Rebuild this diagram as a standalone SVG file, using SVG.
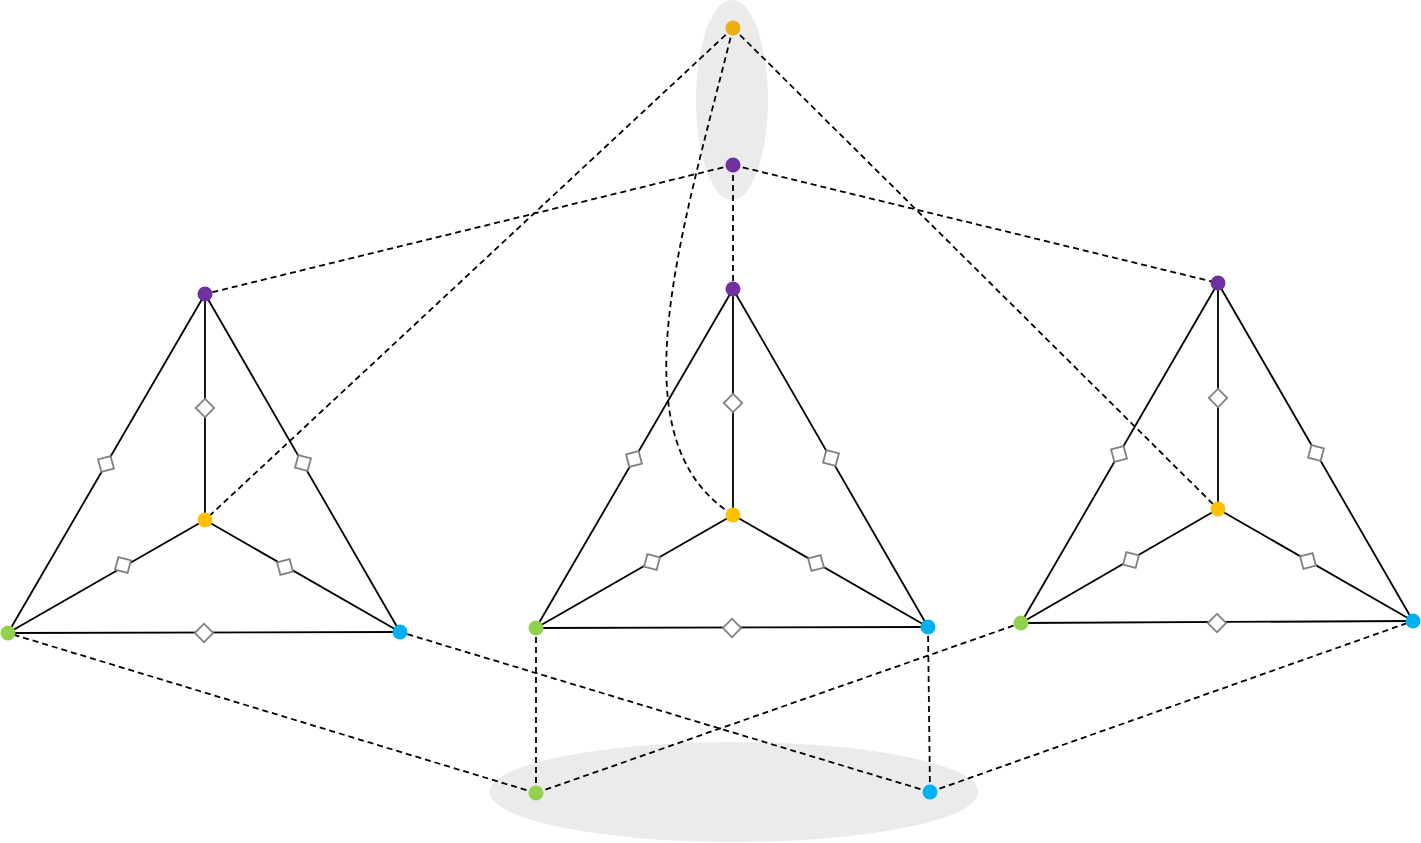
<svg xmlns="http://www.w3.org/2000/svg" width="1421" height="843" viewBox="0 0 1421 843">
<style>
.bg{fill:#EBEBEB}
.dash{fill:none;stroke:#000;stroke-width:1.8;stroke-dasharray:6 4}
.edge{fill:none;stroke:#000;stroke-width:1.8}
.dm{fill:#fff;stroke:#808080;stroke-width:1.8}
.p{fill:#7030A0}.y{fill:#FFC000}.yt{fill:#EBB00F}.g{fill:#92D050}.b{fill:#00B0F0}
</style>
<defs>
<rect id="d" class="dm" x="-6.5" y="-6.5" width="13" height="13"/>
</defs>
<rect width="1421" height="843" fill="#fff"/>
<ellipse class="bg" cx="732" cy="100" rx="36" ry="100"/>
<ellipse class="bg" cx="734" cy="792" rx="244" ry="50"/>
<g id="connectors">
<g id="dashed">
<line class="dash" x1="733" y1="28" x2="205" y2="520"/>
<line class="dash" x1="733" y1="28" x2="1218" y2="509"/>
<path class="dash" d="M733,28 C680,240 614,440 733,515"/>
<line class="dash" x1="733" y1="165" x2="205" y2="294"/>
<line class="dash" x1="733" y1="165" x2="733" y2="289"/>
<line class="dash" x1="733" y1="165" x2="1218" y2="283"/>
<line class="dash" x1="536" y1="793" x2="8" y2="633"/>
<line class="dash" x1="536" y1="793" x2="536" y2="628"/>
<line class="dash" x1="536" y1="793" x2="1021" y2="623"/>
<line class="dash" x1="930" y1="792" x2="400" y2="632"/>
<line class="dash" x1="930" y1="792" x2="928" y2="627"/>
<line class="dash" x1="930" y1="792" x2="1413" y2="621"/>
</g>
<g id="edges-left">
<line class="edge" x1="205" y1="294" x2="205" y2="520"/>
<line class="edge" x1="205" y1="294" x2="8" y2="633"/>
<line class="edge" x1="205" y1="294" x2="400" y2="632"/>
<line class="edge" x1="205" y1="520" x2="8" y2="633"/>
<line class="edge" x1="205" y1="520" x2="400" y2="632"/>
<line class="edge" x1="8" y1="633" x2="400" y2="632"/>
<use href="#d" transform="translate(205,408) rotate(45)"/>
<use href="#d" transform="translate(106,464) rotate(75)"/>
<use href="#d" transform="translate(303,463) rotate(15)"/>
<use href="#d" transform="translate(123,565) rotate(15)"/>
<use href="#d" transform="translate(285,567) rotate(75)"/>
<use href="#d" transform="translate(204,633) rotate(45)"/>
</g>
<g id="edges-middle">
<line class="edge" x1="733" y1="289" x2="733" y2="515"/>
<line class="edge" x1="733" y1="289" x2="536" y2="628"/>
<line class="edge" x1="733" y1="289" x2="928" y2="627"/>
<line class="edge" x1="733" y1="515" x2="536" y2="628"/>
<line class="edge" x1="733" y1="515" x2="928" y2="627"/>
<line class="edge" x1="536" y1="628" x2="928" y2="627"/>
<use href="#d" transform="translate(733,403) rotate(45)"/>
<use href="#d" transform="translate(634,459) rotate(75)"/>
<use href="#d" transform="translate(831,458) rotate(15)"/>
<use href="#d" transform="translate(652,562) rotate(15)"/>
<use href="#d" transform="translate(816,563) rotate(75)"/>
<use href="#d" transform="translate(732,628) rotate(45)"/>
</g>
<g id="edges-right">
<line class="edge" x1="1218" y1="283" x2="1218" y2="509"/>
<line class="edge" x1="1218" y1="283" x2="1021" y2="623"/>
<line class="edge" x1="1218" y1="283" x2="1413" y2="621"/>
<line class="edge" x1="1218" y1="509" x2="1021" y2="623"/>
<line class="edge" x1="1218" y1="509" x2="1413" y2="621"/>
<line class="edge" x1="1021" y1="623" x2="1413" y2="621"/>
<use href="#d" transform="translate(1218,398) rotate(45)"/>
<use href="#d" transform="translate(1119,454) rotate(75)"/>
<use href="#d" transform="translate(1316,453) rotate(15)"/>
<use href="#d" transform="translate(1131,560) rotate(15)"/>
<use href="#d" transform="translate(1308,561) rotate(75)"/>
<use href="#d" transform="translate(1217,623) rotate(45)"/>
</g>
</g>
<g id="node-top-yellow"><circle class="yt" cx="733" cy="28" r="7.5"/></g>
<g id="node-top-purple"><circle class="p" cx="733" cy="165" r="7.5"/></g>
<g id="node-bottom-green"><circle class="g" cx="536" cy="793" r="7.5"/></g>
<g id="node-bottom-blue"><circle class="b" cx="930" cy="792" r="7.5"/></g>
<g id="node-l-purple"><circle class="p" cx="205" cy="294" r="7.5"/></g>
<g id="node-l-yellow"><circle class="y" cx="205" cy="520" r="7.5"/></g>
<g id="node-l-green"><circle class="g" cx="8" cy="633" r="7.5"/></g>
<g id="node-l-blue"><circle class="b" cx="400" cy="632" r="7.5"/></g>
<g id="node-m-purple"><circle class="p" cx="733" cy="289" r="7.5"/></g>
<g id="node-m-yellow"><circle class="y" cx="733" cy="515" r="7.5"/></g>
<g id="node-m-green"><circle class="g" cx="536" cy="628" r="7.5"/></g>
<g id="node-m-blue"><circle class="b" cx="928" cy="627" r="7.5"/></g>
<g id="node-r-purple"><circle class="p" cx="1218" cy="283" r="7.5"/></g>
<g id="node-r-yellow"><circle class="y" cx="1218" cy="509" r="7.5"/></g>
<g id="node-r-green"><circle class="g" cx="1021" cy="623" r="7.5"/></g>
<g id="node-r-blue"><circle class="b" cx="1413" cy="621" r="7.5"/></g>
</svg>
